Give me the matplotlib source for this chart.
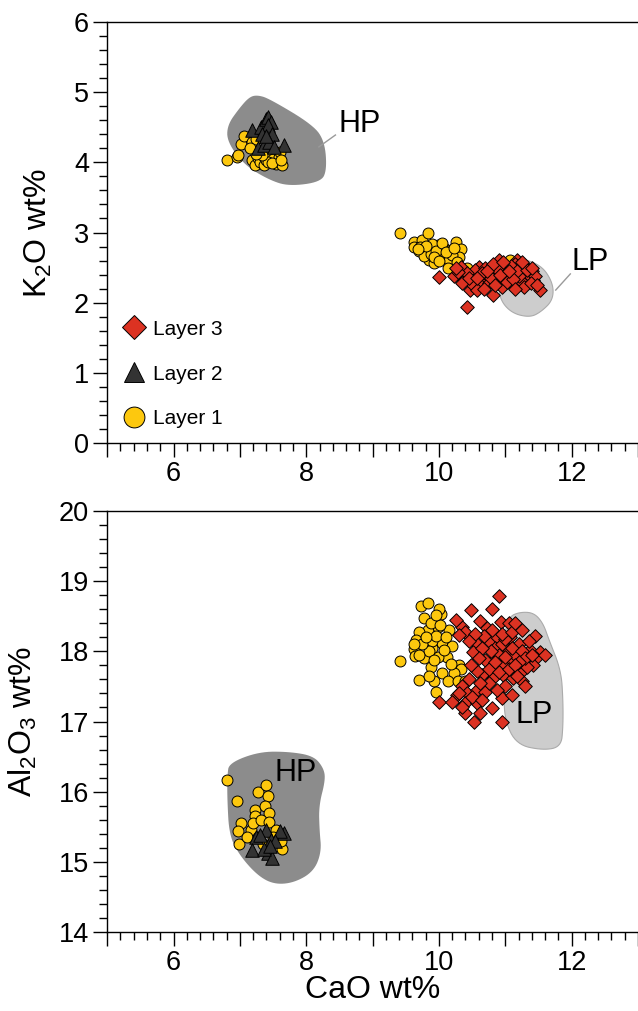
import numpy as np
import matplotlib
matplotlib.use("Agg")
import matplotlib.pyplot as plt
from matplotlib.patches import Polygon
from matplotlib.ticker import MultipleLocator, FuncFormatter
from matplotlib.lines import Line2D

plt.rcParams['font.family'] = ['Liberation Sans', 'DejaVu Sans']
plt.rcParams['mathtext.fontset'] = 'custom'
plt.rcParams['mathtext.rm'] = 'Liberation Sans'
plt.rcParams['mathtext.it'] = 'Liberation Sans'

# ---------------- data ----------------
# Top panel: CaO vs K2O
l1_top_x = [6.80, 6.96, 6.97, 7.02, 7.06, 7.19, 7.24, 7.19, 7.23, 7.28, 7.30, 7.37, 7.39, 7.45, 7.50,
            7.54, 7.59, 7.64, 7.61, 7.43, 7.33, 7.48, 7.25, 7.15, 7.62,
            9.42, 9.63, 9.63, 9.75, 9.83, 9.70, 9.83, 9.85, 9.93, 9.98, 10.03, 10.08, 10.15, 10.25, 10.18,
            10.33, 10.30, 10.13, 9.90, 9.78, 11.07, 10.42, 9.72, 9.88, 9.95, 10.05, 10.20, 10.10, 9.80,
            9.68, 9.92, 10.00, 10.27, 10.22]
l1_top_y = [4.03, 4.07, 4.11, 4.26, 4.37, 4.29, 4.33, 4.03, 3.96, 4.06, 4.00, 3.96, 4.04, 4.13, 4.05,
            3.98, 4.08, 3.96, 4.15, 4.00, 4.10, 3.99, 4.12, 4.20, 4.03,
            3.00, 2.87, 2.80, 2.89, 2.99, 2.73, 2.75, 2.61, 2.56, 2.82, 2.68, 2.78, 2.61, 2.87, 2.75,
            2.77, 2.65, 2.50, 2.84, 2.66, 2.61, 2.49, 2.80, 2.70, 2.74, 2.85, 2.68, 2.72, 2.81,
            2.77, 2.65, 2.60, 2.58, 2.78]

l2_top_x = [7.19, 7.32, 7.39, 7.42, 7.47, 7.42, 7.49, 7.27, 7.37, 7.66, 7.44, 7.51, 7.34, 7.40]
l2_top_y = [4.46, 4.51, 4.62, 4.65, 4.58, 4.53, 4.41, 4.20, 4.25, 4.25, 4.29, 4.22, 4.41, 4.38]

l3_top_x = [10.00, 10.22, 10.43, 10.33, 10.38, 10.47, 10.60, 10.67, 10.72, 10.82, 10.90, 10.98, 11.05,
            11.17, 11.22, 11.30, 11.42, 11.52, 11.40, 10.90, 10.62, 10.52, 10.95, 11.12, 11.25, 10.55,
            10.70, 10.80, 10.85, 11.00, 11.10, 11.15, 11.35, 11.45, 10.42, 10.28, 10.48, 10.58, 10.75,
            10.88, 11.02, 11.20, 11.28, 11.38, 10.65, 10.78, 10.92, 11.08, 11.18, 11.32, 10.35, 10.45,
            10.68, 10.82, 10.97, 11.12, 11.25, 11.48, 10.58, 10.73, 11.05, 11.40, 10.25, 10.85, 11.15]
l3_top_y = [2.36, 2.38, 1.94, 2.51, 2.32, 2.18, 2.51, 2.32, 2.40, 2.11, 2.61, 2.42, 2.36,
            2.61, 2.48, 2.52, 2.32, 2.18, 2.45, 2.28, 2.25, 2.38, 2.22, 2.27, 2.30, 2.46,
            2.50, 2.45, 2.36, 2.50, 2.42, 2.55, 2.40, 2.38, 2.42, 2.44, 2.28, 2.18, 2.28,
            2.48, 2.30, 2.38, 2.22, 2.28, 2.42, 2.35, 2.40, 2.52, 2.45, 2.47, 2.28, 2.35,
            2.20, 2.55, 2.58, 2.34, 2.58, 2.25, 2.35, 2.45, 2.45, 2.50, 2.50, 2.25, 2.20]

hp_top_x = [7.26, 7.44, 8.11, 8.28, 8.31, 8.22, 7.74, 7.44, 7.07, 6.81, 6.81, 6.99, 7.14]
hp_top_y = [4.96, 4.91, 4.53, 4.29, 3.89, 3.72, 3.66, 3.75, 3.96, 4.29, 4.53, 4.77, 4.93]
lp_top_x = [10.99, 11.17, 11.54, 11.72, 11.72, 11.54, 11.37, 11.10, 10.92, 10.89, 10.92]
lp_top_y = [2.61, 2.65, 2.54, 2.28, 2.04, 1.87, 1.79, 1.85, 2.04, 2.32, 2.54]

# Bottom panel: CaO vs Al2O3
l1_bot_x = [6.80, 6.95, 7.28, 7.39, 7.42, 7.23, 7.38, 7.44, 7.23, 7.02, 6.97, 6.99, 7.17, 7.20, 7.32,
            7.44, 7.54, 7.64, 7.62, 7.10, 7.28, 7.50, 7.35,
            9.41, 9.73, 9.84, 9.77, 10.03, 9.83, 9.70, 9.65, 9.63, 9.64, 9.78, 9.90, 9.98, 10.15, 10.05,
            10.20, 10.12, 9.98, 9.88, 10.30, 10.33, 10.22, 10.05, 9.70, 9.93, 9.95, 10.13, 10.28, 10.40,
            9.88, 10.02, 9.90, 9.85, 9.75, 9.95, 10.10, 9.80, 10.08, 9.92, 9.70, 10.00, 9.95, 9.85,
            10.18, 9.62]
l1_bot_y = [16.16, 15.87, 15.99, 16.10, 15.94, 15.74, 15.80, 15.69, 15.66, 15.56, 15.44, 15.25, 15.45,
            15.55, 15.60, 15.57, 15.46, 15.19, 15.30, 15.35, 15.35, 15.35, 15.25,
            17.86, 18.64, 18.69, 18.48, 18.53, 18.30, 18.28, 18.16, 18.03, 17.93, 17.90, 18.05, 18.35,
            18.30, 18.12, 18.07, 17.92, 17.92, 17.78, 17.81, 17.75, 17.69, 17.69, 17.59, 17.57, 17.42,
            17.57, 17.57, 17.57, 18.40, 18.38, 18.15, 18.00, 18.10, 18.22, 18.20, 18.20, 18.02, 17.88,
            17.95, 18.60, 18.52, 17.65, 17.82, 18.10]

l2_bot_x = [7.24, 7.19, 7.39, 7.31, 7.47, 7.42, 7.49, 7.66, 7.60, 7.53, 7.36, 7.45]
l2_bot_y = [15.36, 15.17, 15.46, 15.38, 15.31, 15.12, 15.05, 15.41, 15.44, 15.30, 15.18, 15.22]

l3_bot_x = [10.90, 10.49, 10.62, 10.93, 11.06, 10.35, 10.40, 10.30, 10.72, 11.45, 10.57, 10.52, 10.75,
            10.87, 11.07, 11.20, 11.37, 11.52, 11.47, 11.42, 11.27, 11.33, 11.07, 10.97, 10.82, 10.70,
            10.65, 10.82, 10.97, 11.12, 11.25, 11.30, 10.35, 10.27, 10.42, 10.57, 10.70, 10.00, 10.20,
            10.40, 10.57, 10.80, 10.95, 11.10, 10.40, 10.62, 10.53, 10.95, 10.85, 10.95, 11.05, 11.15,
            10.90, 10.78, 10.65, 11.00, 11.10, 11.25, 11.30, 11.20, 10.60, 10.75, 10.90, 11.05, 11.15,
            10.85, 11.00, 10.95, 11.10, 10.80, 10.68, 10.55, 11.35, 11.40, 10.45, 10.50, 10.65, 10.35,
            10.30, 10.75, 11.00, 11.18, 10.62, 10.88, 10.25, 10.80, 11.15, 11.25, 11.60, 10.45, 10.58,
            10.48]
l3_bot_y = [18.79, 18.59, 18.43, 18.42, 18.41, 18.35, 18.28, 18.23, 18.33, 18.22, 18.11, 17.99, 18.15,
            18.20, 18.21, 18.10, 18.02, 17.99, 17.90, 17.80, 17.73, 17.77, 17.88, 17.80, 17.88, 17.88,
            17.66, 17.62, 17.66, 17.62, 17.57, 17.50, 17.50, 17.38, 17.40, 17.45, 17.42, 17.28, 17.28,
            17.26, 17.26, 17.19, 17.33, 17.38, 17.12, 17.12, 17.00, 17.00, 18.05, 18.10, 18.00, 17.95,
            17.95, 18.00, 18.05, 18.18, 18.05, 18.00, 17.90, 17.85, 17.90, 17.75, 17.70, 17.75, 17.80,
            17.85, 17.92, 18.25, 18.28, 18.30, 18.22, 18.25, 18.15, 17.95, 17.60, 17.35, 17.30, 17.20,
            17.40, 17.55, 17.50, 17.65, 17.55, 17.45, 18.45, 18.60, 18.40, 18.30, 17.95, 18.15, 17.72,
            17.80]

hp_bot_x = [6.84, 7.29, 7.74, 8.11, 8.26, 8.29, 8.19, 8.20, 8.23, 8.11, 7.81, 7.51, 7.26, 6.99, 6.84,
            6.81, 6.81]
hp_bot_y = [16.41, 16.57, 16.57, 16.51, 16.34, 16.17, 15.80, 15.45, 15.14, 14.86, 14.70, 14.68, 14.81,
            15.10, 15.38, 15.88, 16.24]
lp_bot_x = [11.22, 11.43, 11.57, 11.66, 11.84, 11.87, 11.87, 11.84, 11.57, 11.17, 10.99, 10.98, 10.98,
            11.05]
lp_bot_y = [18.56, 18.55, 18.40, 18.16, 17.73, 17.31, 16.92, 16.64, 16.59, 16.67, 17.02, 17.45, 18.20,
            18.49]

legend_labels = ["Layer 3", "Layer 2", "Layer 1"]

# ---------------- styles ----------------
YELLOW = '#FDC80E'
RED = '#DC3222'
DARK = '#333333'
HP_COL = '#8C8C8C'
LP_COL = '#CDCDCD'
LP_EDGE = '#ABABAB'


def smooth(xs, ys, n=3):
    pts = np.column_stack([xs, ys])
    for _ in range(n):
        q = 0.75 * pts + 0.25 * np.roll(pts, -1, axis=0)
        r = 0.25 * pts + 0.75 * np.roll(pts, -1, axis=0)
        pts = np.empty((2 * len(q), 2))
        pts[0::2] = q
        pts[1::2] = r
    return pts


fig = plt.figure(figsize=(6.38, 10.11), dpi=100)
ax1 = fig.add_axes([0.168, 0.5618, 0.832, 0.4164])
ax2 = fig.add_axes([0.168, 0.0781, 0.832, 0.4165])

for ax, ylim in ((ax1, (0, 6)), (ax2, (14, 20))):
    ax.set_xlim(5, 13)
    ax.set_ylim(*ylim)
    ax.spines['right'].set_visible(False)
    for s in ('left', 'bottom', 'top'):
        ax.spines[s].set_linewidth(1.0)
    ax.xaxis.set_major_locator(MultipleLocator(1))
    ax.xaxis.set_minor_locator(MultipleLocator(0.2))
    ax.yaxis.set_major_locator(MultipleLocator(1))
    ax.yaxis.set_minor_locator(MultipleLocator(0.2))
    ax.xaxis.set_major_formatter(FuncFormatter(lambda v, p: f"{int(round(v))}" if int(round(v)) % 2 == 0 and 5 < v < 13 else ""))
    ax.yaxis.set_major_formatter(FuncFormatter(lambda v, p: f"{int(round(v))}"))
    ax.tick_params(which='major', direction='out', length=10, width=1.0, labelsize=19.5, pad=3)
    ax.tick_params(which='minor', direction='out', length=5.5, width=1.0)
    ax.tick_params(top=False, right=False)

# Fields
ax1.add_patch(Polygon(smooth(hp_top_x, hp_top_y), closed=True, facecolor=HP_COL, edgecolor='none', zorder=1))
ax1.add_patch(Polygon(smooth(lp_top_x, lp_top_y), closed=True, facecolor=LP_COL, edgecolor=LP_EDGE, linewidth=0.8, zorder=1))
ax2.add_patch(Polygon(smooth(hp_bot_x, hp_bot_y), closed=True, facecolor=HP_COL, edgecolor='none', zorder=1))
ax2.add_patch(Polygon(smooth(lp_bot_x, lp_bot_y), closed=True, facecolor=LP_COL, edgecolor=LP_EDGE, linewidth=0.8, zorder=1))

# Labels for fields
ax1.plot([8.19, 8.44], [4.22, 4.39], color='#9A9A9A', lw=1.0, zorder=1)
ax1.text(8.80, 4.54, "HP", fontsize=22, ha='center', va='center')
ax1.plot([11.76, 11.98], [2.18, 2.41], color='#9A9A9A', lw=1.0, zorder=1)
ax1.text(12.28, 2.58, "LP", fontsize=22, ha='center', va='center')
ax2.text(7.84, 16.27, "HP", fontsize=22, ha='center', va='center', zorder=5)
ax2.text(11.43, 17.09, "LP", fontsize=22, ha='center', va='center', zorder=5)

kw = dict(edgecolors='black', linewidths=0.7, zorder=3)
ax1.scatter(l1_top_x, l1_top_y, s=62, marker='o', facecolors=YELLOW, **kw)
ax1.scatter(l3_top_x, l3_top_y, s=48, marker='D', facecolors=RED, **kw)
ax1.scatter(l2_top_x, l2_top_y, s=95, marker='^', facecolors=DARK, **kw)

ax2.scatter(l1_bot_x, l1_bot_y, s=62, marker='o', facecolors=YELLOW, **kw)
ax2.scatter(l3_bot_x, l3_bot_y, s=48, marker='D', facecolors=RED, **kw)
ax2.scatter(l2_bot_x, l2_bot_y, s=95, marker='^', facecolors=DARK, **kw)

handles = [
    Line2D([], [], ls='none', marker='D', ms=12, mfc=RED, mec='black', mew=0.7),
    Line2D([], [], ls='none', marker='^', ms=14, mfc=DARK, mec='black', mew=0.7),
    Line2D([], [], ls='none', marker='o', ms=15, mfc=YELLOW, mec='black', mew=0.7),
]
ax1.legend(handles, legend_labels, loc='lower left', bbox_to_anchor=(0.0, 0.0), frameon=False,
           fontsize=15, labelspacing=1.24, handletextpad=0.3, borderaxespad=0.3, handlelength=1.2)

ax1.set_ylabel("K$_2$O wt%", fontsize=23, labelpad=14)
ax2.set_ylabel("Al$_2$O$_3$ wt%", fontsize=23, labelpad=14)
ax2.set_xlabel("CaO wt%", fontsize=23, labelpad=-1)

fig.savefig("out.png", dpi=100)
